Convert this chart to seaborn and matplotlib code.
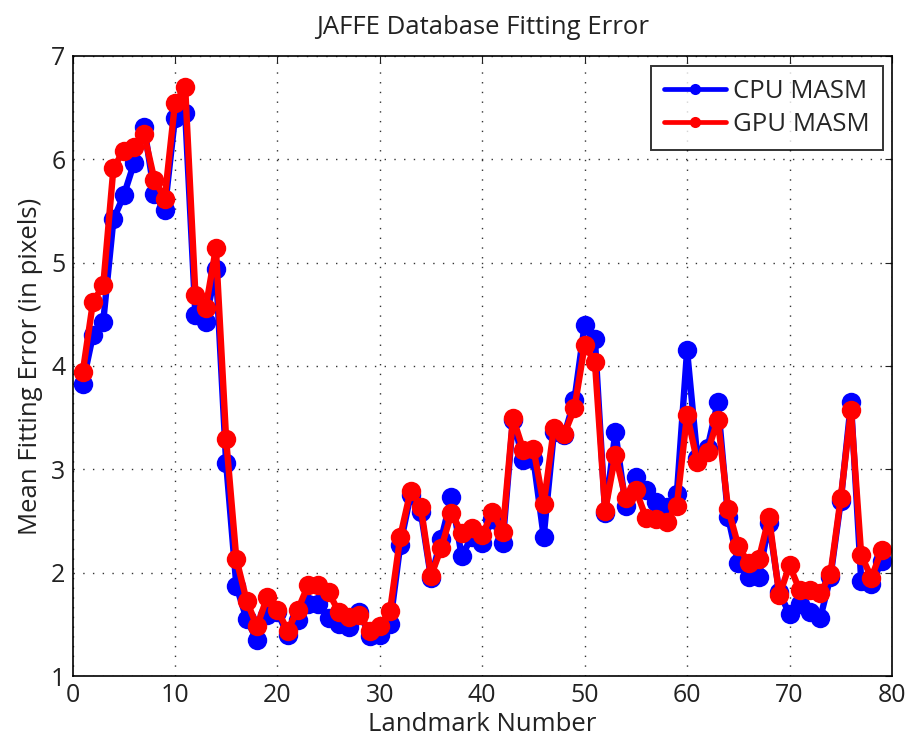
import numpy as np
import pandas as pd
import matplotlib
matplotlib.use("Agg")
import matplotlib.pyplot as plt
import seaborn as sns

landmarks = list(range(1, 80))

cpu_masm = [3.83, 4.30, 4.43, 5.42, 5.65, 5.96, 6.31, 5.66, 5.51, 6.40,
            6.45, 4.49, 4.43, 4.94, 3.06, 1.87, 1.55, 1.35, 1.59, 1.62,
            1.40, 1.54, 1.70, 1.70, 1.56, 1.50, 1.47, 1.62, 1.39, 1.40,
            1.50, 2.27, 2.75, 2.59, 1.95, 2.33, 2.73, 2.16, 2.35, 2.29,
            2.52, 2.29, 3.48, 3.09, 3.10, 2.35, 3.36, 3.33, 3.67, 4.40,
            4.26, 2.58, 3.36, 2.65, 2.93, 2.80, 2.68, 2.64, 2.76, 4.15,
            3.11, 3.21, 3.65, 2.54, 2.09, 1.96, 1.96, 2.48, 1.81, 1.60,
            1.70, 1.62, 1.56, 1.96, 2.69, 3.65, 1.92, 1.89, 2.11]

gpu_masm = [3.94, 4.62, 4.78, 5.92, 6.08, 6.12, 6.24, 5.80, 5.62, 6.54,
            6.70, 4.69, 4.56, 5.14, 3.29, 2.13, 1.73, 1.48, 1.76, 1.64,
            1.44, 1.64, 1.88, 1.88, 1.81, 1.62, 1.57, 1.59, 1.44, 1.48,
            1.63, 2.35, 2.79, 2.64, 1.97, 2.24, 2.58, 2.38, 2.43, 2.36,
            2.59, 2.39, 3.50, 3.19, 3.20, 2.66, 3.40, 3.34, 3.59, 4.20,
            4.04, 2.60, 3.14, 2.72, 2.80, 2.53, 2.52, 2.49, 2.65, 3.53,
            3.07, 3.17, 3.48, 2.62, 2.26, 2.09, 2.13, 2.54, 1.78, 2.07,
            1.83, 1.83, 1.80, 1.99, 2.72, 3.57, 2.17, 1.95, 2.22]

series_names = ["CPU MASM", "GPU MASM"]
x_ticks = [0, 10, 20, 30, 40, 50, 60, 70, 80]
y_ticks = [1, 2, 3, 4, 5, 6, 7]

df = pd.DataFrame({
    "Landmark": landmarks * 2,
    "Error": cpu_masm + gpu_masm,
    "Method": [series_names[0]] * len(landmarks) + [series_names[1]] * len(landmarks),
})

sns.set_style("white")
plt.rcParams["font.family"] = ["Open Sans", "DejaVu Sans"]

fig = plt.figure(figsize=(9.12, 7.46), dpi=100)
ax = fig.add_axes([0.0795, 0.0938, 0.8985, 0.8312])

sns.lineplot(data=df, x="Landmark", y="Error", hue="Method",
             palette={"CPU MASM": "#0000ff", "GPU MASM": "#ff0000"},
             marker="o", markersize=14, linewidth=4.6, markeredgewidth=0,
             ax=ax, legend=True)

ax.set_xlim(0, 80)
ax.set_ylim(1, 7)
ax.set_xticks(x_ticks)
ax.set_yticks(y_ticks)
ax.tick_params(direction="in", top=True, right=True, length=5, width=0.8,
               labelsize=18, colors="#222222", pad=5)
ax.grid(True, linestyle=(0, (1, 6)), color="#333333", linewidth=1.0)
for s in ax.spines.values():
    s.set_visible(True)
    s.set_color("black")
    s.set_linewidth(1.2)

ax.set_xlabel("Landmark Number", fontsize=18.5, color="#222222", labelpad=3)
ax.set_ylabel("Mean Fitting Error (in pixels)", fontsize=18.5, color="#222222", labelpad=6)
ax.set_title("JAFFE Database Fitting Error", fontsize=18.5, color="#222222", pad=16)

leg = ax.legend(loc="upper right", fontsize=18.5, frameon=True, fancybox=False,
                edgecolor="black", borderpad=0.5, handlelength=2.4,
                handletextpad=0.3, labelspacing=0.3, borderaxespad=0,
                bbox_to_anchor=(0.989, 0.983))
leg.get_frame().set_linewidth(1.4)
for h in leg.get_lines():
    h.set_linewidth(3.4)
    h.set_markersize(8)

fig.savefig("out.png", dpi=100)
